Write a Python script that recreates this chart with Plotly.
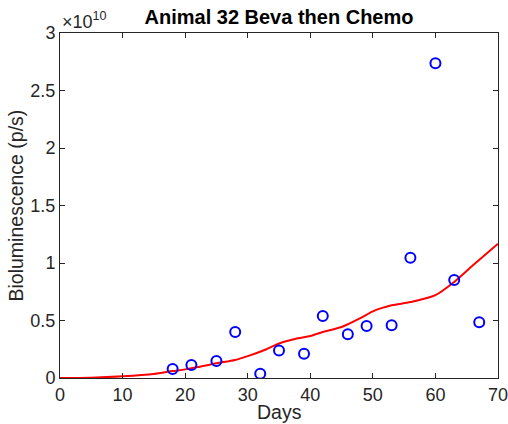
import plotly.graph_objects as go

# Observed data (bioluminescence, units of 1e10 p/s)
days_obs = [18, 21, 25, 28, 32, 35, 39, 42, 46, 49, 53, 56, 60, 63, 67]
biolum_obs = [0.078, 0.113, 0.148, 0.40, 0.037, 0.24, 0.211, 0.539, 0.38, 0.452, 0.458, 1.046, 2.737, 0.852, 0.484]

# Model fit curve (units of 1e10 p/s)
days_fit = [0, 5, 10, 15, 18, 20, 22, 25, 28, 30, 33, 35, 38, 40, 42, 45, 48, 50, 53, 56, 60, 63, 66, 70]
biolum_fit = [0.0, 0.003, 0.015, 0.035, 0.06, 0.075, 0.095, 0.128, 0.157, 0.19, 0.25, 0.30, 0.345, 0.365, 0.40, 0.443, 0.52, 0.58, 0.632, 0.66, 0.72, 0.835, 0.98, 1.168]

x_ticks = [0, 10, 20, 30, 40, 50, 60, 70]
y_ticks = [0, 0.5, 1, 1.5, 2, 2.5, 3]
y_tick_text = ["0", "0.5", "1", "1.5", "2", "2.5", "3"]

font_family = "Liberation Sans, Arial, Helvetica, sans-serif"
txt = "#262626"

W, H = 508, 424
L, R, T, B = 60, 10, 33, 46
ph = H - T - B

fig = go.Figure()
fig.add_trace(go.Scatter(
    x=days_fit, y=biolum_fit, mode="lines",
    line=dict(color="#ff0000", width=2, shape="spline", smoothing=0.8),
    showlegend=False, hoverinfo="skip"))
fig.add_trace(go.Scatter(
    x=days_obs, y=biolum_obs, mode="markers",
    marker=dict(symbol="circle-open", size=10, color="#0000ff", line=dict(width=2, color="#0000ff")),
    showlegend=False))

axis_common = dict(
    showgrid=False, zeroline=False, showline=True, linecolor="#262626", linewidth=1,
    mirror="ticks", ticks="inside", ticklen=5, tickcolor="#262626", automargin=False,
    ticklabeloverflow="allow",
    tickfont=dict(family=font_family, size=18, color=txt),
)

fig.update_layout(
    width=W, height=H,
    margin=dict(l=L, r=R, t=T, b=B),
    paper_bgcolor="white", plot_bgcolor="white",
    font=dict(family=font_family, color=txt),
    title=dict(text="<b>Animal 32 Beva then Chemo</b>", x=(L + (W - L - R) / 2) / W, xanchor="center",
               y=1 - 17 / H, yanchor="middle",
               font=dict(family=font_family, size=20, color="#000000")),
    xaxis=dict(range=[0, 70], tickvals=x_ticks, ticktext=[str(v) for v in x_ticks], **axis_common),
    yaxis=dict(range=[0, 3], tickvals=y_ticks, ticktext=y_tick_text, **axis_common),
    annotations=[
        dict(text="×10<sup>10</sup>", xref="paper", yref="paper", x=0.0, y=1.0,
             xanchor="left", yanchor="bottom", showarrow=False, xshift=0, yshift=-1,
             font=dict(family=font_family, size=18, color=txt)),
        dict(text="Days", xref="paper", yref="paper", x=0.5, y=-(412 - (T + ph)) / ph,
             xanchor="center", yanchor="middle", showarrow=False,
             font=dict(family=font_family, size=19.5, color=txt)),
        dict(text="Bioluminescence (p/s)", xref="paper", yref="paper", x=-(L - 15) / (W - L - R), y=0.5,
             xanchor="center", yanchor="middle", showarrow=False, textangle=-90,
             font=dict(family=font_family, size=19.5, color=txt)),
    ],
)

fig.write_html("out.html", config={"displayModeBar": False},
               post_script="document.body.style.margin='0';document.body.style.overflow='hidden';")
